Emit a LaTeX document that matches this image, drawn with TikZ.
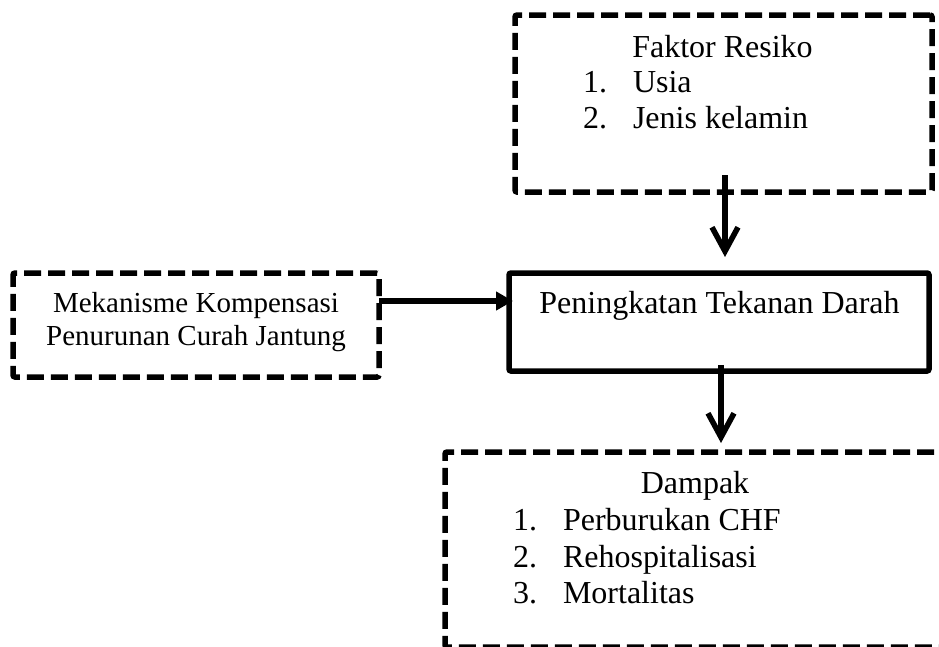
\documentclass[tikz,border=0pt]{standalone}
\usepackage{fontspec}
\setmainfont{Liberation Serif}
\usetikzlibrary{arrows.meta}
\begin{document}
\begin{tikzpicture}[x=1pt,y=-1pt,
  dbox/.style={draw, line width=5.5pt, dash pattern=on 17pt off 7pt, rounded corners=2pt, inner sep=0pt, outer sep=0pt},
  sbox/.style={draw, line width=5.5pt, rounded corners=2pt, inner sep=0pt, outer sep=0pt},
  txt/.style={inner sep=0pt, outer sep=0pt, anchor=base, font=\fontsize{32}{37}\selectfont},
  ltxt/.style={txt, anchor=base west},
  mtxt/.style={inner sep=0pt, outer sep=0pt, anchor=base, font=\fontsize{29}{33}\selectfont},
  barb/.style={line width=5.5pt, -{Straight Barb[length=24pt,width=26pt]}},
  tri/.style={line width=5.5pt, -{Triangle[length=17pt,width=18pt]}}]
\fill[white] (0,0) rectangle (939,646);
\useasboundingbox (0,0) rectangle (939,646);
\clip (0,0) rectangle (939,646);
% boxes
\node[dbox, minimum width=417pt, minimum height=177pt] (faktor) at (723.5,103.5) {};
\node[dbox, minimum width=366pt, minimum height=104pt] (mek) at (196,325) {};
\node[sbox, minimum width=420pt, minimum height=98pt] (pen) at (719,322) {};
\node[dbox, minimum width=515pt, minimum height=195pt] (dampak) at (702.5,549.5) {};
% texts
\node[txt] (ft) at (722.5,57) {Faktor Resiko};
\node[ltxt] (f1n) at (583,92) {1.};
\node[ltxt] (f1) at (633,92) {Usia};
\node[ltxt] (f2n) at (583,128) {2.};
\node[ltxt] (f2) at (633,128) {Jenis kelamin};
\node[mtxt] (m1) at (196,312) {Mekanisme Kompensasi};
\node[mtxt] (m2) at (196,345) {Penurunan Curah Jantung};
\node[txt] (pt) at (719.5,313) {Peningkatan Tekanan Darah};
\node[txt] (dt) at (695,493) {Dampak};
\node[ltxt] (d1n) at (513,530) {1.};
\node[ltxt] (d1) at (563,530) {Perburukan CHF};
\node[ltxt] (d2n) at (513,567) {2.};
\node[ltxt] (d2) at (563,567) {Rehospitalisasi};
\node[ltxt] (d3n) at (513,603) {3.};
\node[ltxt] (d3) at (563,603) {Mortalitas};
% connectors
\draw[barb] ([xshift=1.5pt,yshift=17pt]faktor.south) -- ([xshift=6pt,yshift=16pt]pen.north);
\draw[barb] ([xshift=2pt,yshift=6pt]pen.south) -- ([xshift=18.5pt,yshift=9pt]dampak.north);
\draw[tri] ([yshift=24pt]mek.east) -- ([xshift=4pt,yshift=21pt]pen.west);
\end{tikzpicture}
\end{document}
